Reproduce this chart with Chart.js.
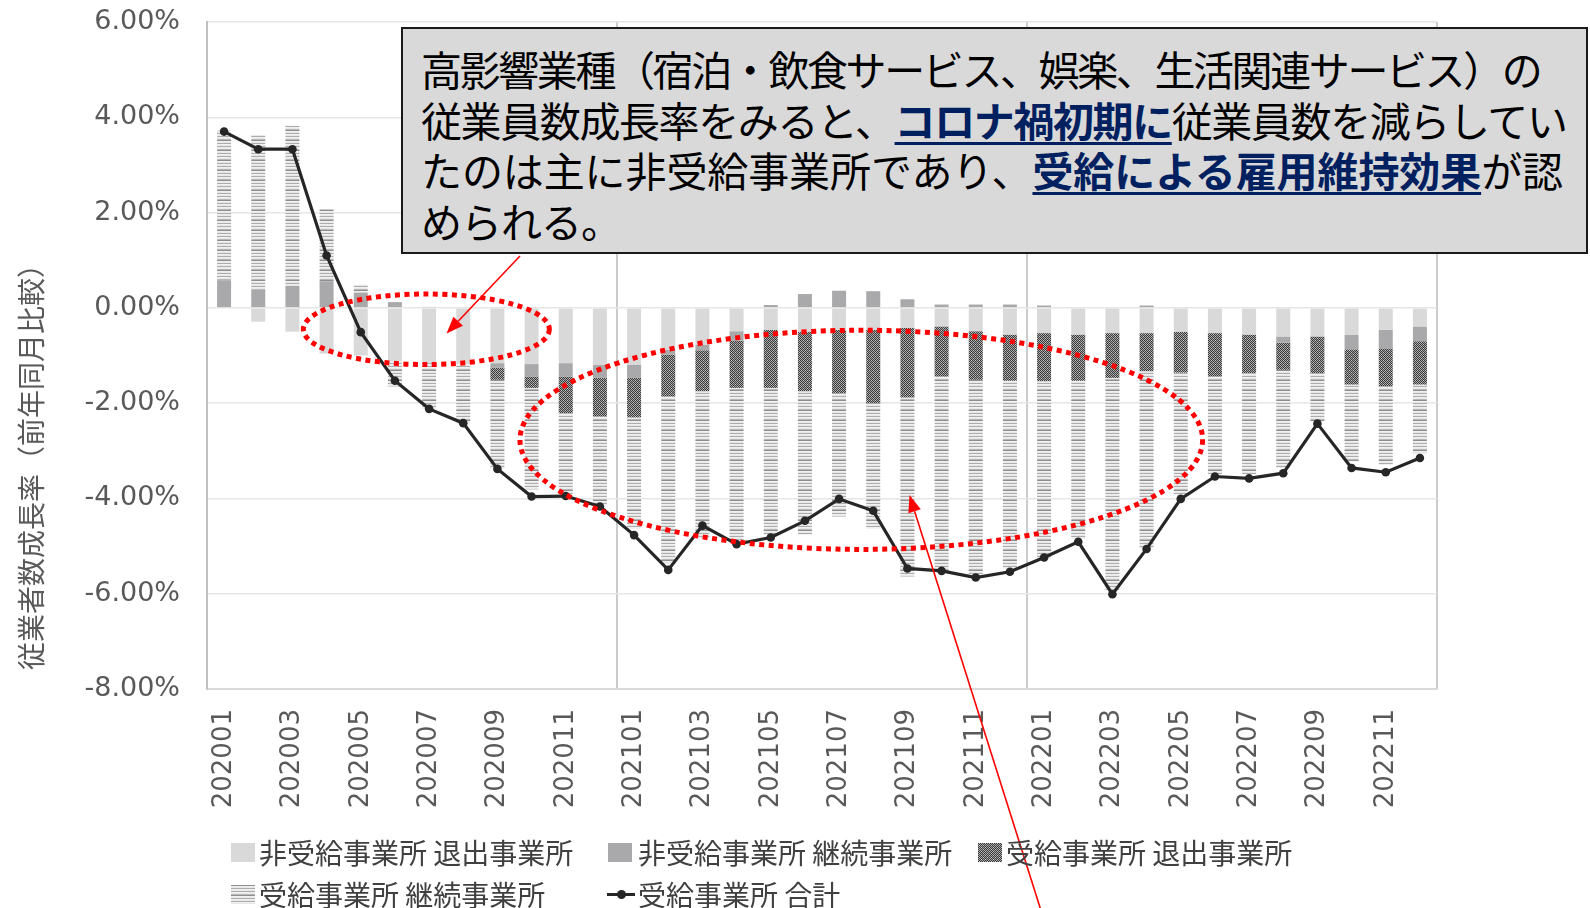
<!DOCTYPE html>
<html><head><meta charset="utf-8">
<script src="https://cdn.jsdelivr.net/npm/chart.js@4.4.0/dist/chart.umd.min.js"></script>
<style>
html,body{margin:0;padding:0;background:#fff;}
#wrap{position:relative;width:1590px;height:908px;overflow:hidden;background:#fff;}
#c{position:absolute;left:0;top:0;}
.ytitle{position:absolute;left:30px;top:460px;transform:translate(-50%,-50%) rotate(-90deg);font-family:"Noto Sans CJK JP";font-size:28px;color:#595959;white-space:nowrap;line-height:1;}
.note{position:absolute;left:401px;top:27px;width:1183px;height:223px;background:#d9d9d9;border:2px solid #1a1a1a;font-family:"Noto Sans CJK JP";font-size:41px;color:#000;}
.note div{position:absolute;left:18px;white-space:nowrap;line-height:1;}
.hl{color:#002060;font-weight:bold;text-decoration:underline;text-decoration-thickness:3px;text-underline-offset:5px;}
.lg{position:absolute;font-family:"Noto Sans CJK JP";font-size:28px;color:#404040;white-space:nowrap;line-height:1;}
.sw{position:absolute;width:24px;height:19px;}
.ln{position:absolute;width:28px;height:3px;background:#262626;}
.dot{position:absolute;width:9px;height:9px;border-radius:50%;background:#262626;}
</style></head>
<body>
<div id="wrap">
<canvas id="c" width="1590" height="908"></canvas>
<div class="ytitle">従業者数成長率（前年同月比較）</div>
<div class="note">
<div style="top:19px;letter-spacing:-2.4px">高影響業種（宿泊・飲食サービス、娯楽、生活関連サービス）の</div>
<div style="top:70px;letter-spacing:-1.4px">従業員数成長率をみると、<span class="hl">コロナ禍初期に</span>従業員数を減らしてい</div>
<div style="top:120px;letter-spacing:-0.1px">たのは主に非受給事業所であり、<span class="hl">受給による雇用維持効果</span>が認</div>
<div style="top:171px;letter-spacing:-1px">められる。</div>
</div>
<div id="legend"></div>
</div>
<script>
// ---- data (percent, year-on-year) ----
const months = ['202001','202002','202003','202004','202005','202006','202007','202008','202009','202010','202011','202012',
                '202101','202102','202103','202104','202105','202106','202107','202108','202109','202110','202111','202112',
                '202201','202202','202203','202204','202205','202206','202207','202208','202209','202210','202211','202212'];
const nonRecvExit = [0,-0.29,-0.50,-0.96,-1.00,-1.12,-1.15,-1.17,-1.16,-1.18,-1.16,-1.20,
                     -1.19,-0.88,-0.77,-0.49,-0.46,-0.50,-0.46,-0.46,-0.42,-0.39,-0.49,-0.56,
                     -0.53,-0.56,-0.53,-0.53,-0.50,-0.53,-0.56,-0.60,-0.60,-0.57,-0.46,-0.39];
const nonRecvCont = [0.58,0.39,0.46,0.56,0.32,0.12,0.02,0,-0.10,-0.26,-0.28,-0.27,
                     -0.28,-0.10,-0.12,-0.20,0.06,0.29,0.36,0.35,0.18,0.07,0.07,0.07,
                     0.05,0,0,0.05,0,0,0,-0.13,0,-0.30,-0.39,-0.31];
const recvExit = [0,0,0,0,0,0,0,0,-0.25,-0.24,-0.77,-0.81,
                  -0.83,-0.88,-0.86,-0.99,-1.22,-1.25,-1.33,-1.54,-1.46,-1.05,-1.02,-0.97,
                  -1.01,-0.97,-0.94,-0.80,-0.86,-0.91,-0.81,-0.57,-0.77,-0.74,-0.79,-0.91];
const recvCont = [3.14,3.24,3.36,1.51,0.17,-0.53,-0.97,-1.25,-1.86,-2.13,-1.72,-1.86,
                  -2.33,-3.50,-3.09,-3.19,-3.09,-3.02,-2.59,-2.63,-3.76,-4.10,-4.10,-3.94,
                  -3.73,-3.31,-4.45,-3.72,-2.56,-2.06,-2.13,-2.06,-1.01,-1.61,-1.66,-1.44];
const recvTotal = [3.70,3.33,3.33,1.10,-0.51,-1.53,-2.12,-2.42,-3.38,-3.96,-3.95,-4.17,
                   -4.77,-5.50,-4.57,-4.96,-4.82,-4.47,-4.01,-4.26,-5.47,-5.52,-5.66,-5.54,
                   -5.24,-4.91,-6.01,-5.06,-4.01,-3.54,-3.58,-3.47,-2.43,-3.36,-3.45,-3.15];
const yMin = -8, yMax = 6, yStep = 2;
const seriesNames = ['非受給事業所 退出事業所','非受給事業所 継続事業所','受給事業所 退出事業所','受給事業所 継続事業所','受給事業所 合計'];

// annotation shapes in data units (category index, percent)
const ellipses = [{cx:5.92, cy:-0.45, rx:3.6, ry:0.74},{cx:18.65, cy:-2.77, rx:9.99, ry:2.30}];
const arrows = [{x0:8.66, y0:1.09, x1:6.51, y1:-0.54},{x0:23.91, y0:-12.65, x1:20.06, y1:-3.93}];

// ---- patterns ----
function stippleCanvas(){
  const c=document.createElement('canvas');c.width=4;c.height=4;const x=c.getContext('2d');
  x.fillStyle='#a0a0a0';x.fillRect(0,0,4,4);x.fillStyle='#3c3c3c';
  for(let i=0;i<4;i++)for(let j=0;j<4;j++){if((i+j)%2===0)x.fillRect(i,j,1,1);}
  x.fillStyle='#c8c8c8';x.fillRect(1,2,1,1);x.fillRect(3,0,1,1);
  return c;
}
function stripeCanvas(){
  const c=document.createElement('canvas');c.width=4;c.height=10;const x=c.getContext('2d');
  const rows=['#8e8e8e','#f0f0f0','#e8e8e8','#acacac','#f0f0f0','#e8e8e8','#acacac','#f0f0f0','#e8e8e8','#b8b8b8'];
  rows.forEach((col,i)=>{x.fillStyle=col;x.fillRect(0,i,4,1);});
  return c;
}
const ctx=document.getElementById('c').getContext('2d');
const stipC=stippleCanvas(), strC=stripeCanvas();
const stipple=ctx.createPattern(stipC,'repeat');
const stripes=ctx.createPattern(strC,'repeat');
const colors=['#d9d9d9','#a9a9ab',stipple,stripes];

// ---- legend (HTML) ----
(function(){
  const lg=document.getElementById('legend');
  const items=[
    {box:231,text:259,row:0,bg:'#d9d9d9'},
    {box:608,text:638,row:0,bg:'#a9a9ab'},
    {box:978,text:1006,row:0,img:stipC},
    {box:231,text:259,row:1,img:strC},
    {box:607,text:638,row:1,line:true}
  ];
  const rowY=[852,894];
  items.forEach((it,i)=>{
    const cy=rowY[it.row];
    if(it.line){
      const l=document.createElement('div');l.className='ln';l.style.left=it.box+'px';l.style.top=(cy-1.5)+'px';lg.appendChild(l);
      const d=document.createElement('div');d.className='dot';d.style.left=(it.box+9.5)+'px';d.style.top=(cy-4.5)+'px';lg.appendChild(d);
    } else {
      const s=document.createElement('div');s.className='sw';s.style.left=it.box+'px';s.style.top=(cy-9.5)+'px';
      if(it.bg)s.style.background=it.bg; else s.style.backgroundImage='url('+it.img.toDataURL()+')';
      lg.appendChild(s);
    }
    const t=document.createElement('div');t.className='lg';t.textContent=seriesNames[i];
    t.style.left=it.text+'px';t.style.top=(cy-14.5)+'px';lg.appendChild(t);
  });
})();

// ---- annotation plugin ----
const annot={
  id:'annot',
  afterDraw(chart){
    const xs=chart.scales.x, ys=chart.scales.y, c=chart.ctx;
    c.save();
    c.strokeStyle='#ff0000';c.lineWidth=5;c.setLineDash([5,4.5]);c.lineCap='butt';
    ellipses.forEach(e=>{
      const px=xs.getPixelForValue(e.cx), py=ys.getPixelForValue(e.cy);
      const rx=xs.getPixelForValue(e.cx+e.rx)-px, ry=ys.getPixelForValue(e.cy-e.ry)-py;
      c.beginPath();c.ellipse(px,py,rx,ry,0,0,Math.PI*2);c.stroke();
    });
    c.setLineDash([]);c.lineWidth=1.6;c.fillStyle='#ff0000';
    arrows.forEach(a=>{
      const x0=xs.getPixelForValue(a.x0), y0=ys.getPixelForValue(a.y0);
      const x1=xs.getPixelForValue(a.x1), y1=ys.getPixelForValue(a.y1);
      const ang=Math.atan2(y1-y0,x1-x0), L=17, W=6.5;
      const bx=x1-L*Math.cos(ang), by=y1-L*Math.sin(ang);
      c.beginPath();c.moveTo(x0,y0);c.lineTo(bx,by);c.stroke();
      c.beginPath();c.moveTo(x1,y1);
      c.lineTo(bx+W*Math.sin(ang),by-W*Math.cos(ang));
      c.lineTo(bx-W*Math.sin(ang),by+W*Math.cos(ang));
      c.closePath();c.fill();
    });
    c.restore();
  }
};

Chart.defaults.font.family='DejaVu Sans';
const barData=[nonRecvExit,nonRecvCont,recvExit,recvCont];
const datasets=barData.map((d,i)=>({type:'bar',label:seriesNames[i],data:d,backgroundColor:colors[i],borderWidth:0,
  barPercentage:0.41,categoryPercentage:1.0,order:1}));
datasets.push({type:'line',label:seriesNames[4],data:recvTotal,stack:'line',order:0,borderColor:'#262626',borderWidth:3.2,
  pointRadius:4.3,pointBackgroundColor:'#262626',pointBorderWidth:0,tension:0,fill:false});

new Chart(ctx,{
  data:{labels:months,datasets},
  options:{
    responsive:false,animation:false,devicePixelRatio:1,
    layout:{padding:{left:0,top:22,right:153,bottom:0}},
    plugins:{legend:{display:false},tooltip:{enabled:false}},
    scales:{
      x:{stacked:true,offset:true,
        grid:{offset:true,drawTicks:false,lineWidth:2,
          color:c=>(c.type==='scale'||c.index===12||c.index===24)?'#cbcbcb':'rgba(0,0,0,0)'},
        border:{display:true,color:'#d9d9d9',width:2},
        ticks:{autoSkip:false,minRotation:90,maxRotation:90,padding:20,color:'#595959',font:{size:26},
          callback:function(v,i){return i%2===0?this.getLabelForValue(v):'';}},
        afterFit:s=>{s.height=219;}
      },
      y:{stacked:true,min:yMin,max:yMax,
        grid:{color:'#e6e6e6',lineWidth:1.5,drawTicks:true,tickLength:27,tickColor:'rgba(0,0,0,0)'},
        border:{display:true,color:'#c0c0c0',width:2},
        ticks:{stepSize:yStep,padding:0,color:'#595959',font:{size:27},callback:v=>v.toFixed(2)+'%'},
        afterFit:s=>{s.width=207;}
      }
    }
  },
  plugins:[annot]
});
</script>
</body></html>
